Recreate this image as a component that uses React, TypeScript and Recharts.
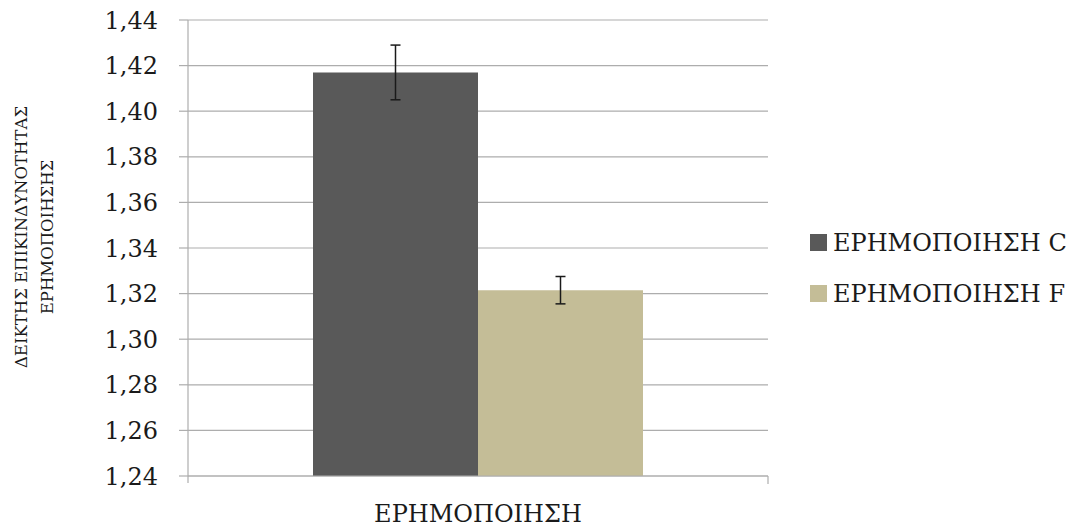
import React from "react";
import {
  BarChart,
  Bar,
  XAxis,
  YAxis,
  CartesianGrid,
  Legend,
  ErrorBar,
} from "recharts";

const categories: string[] = ["ΕΡΗΜΟΠΟΙΗΣΗ"];
const valuesC: number[] = [1.417];
const errorsC: number[] = [0.012];
const valuesF: number[] = [1.3215];
const errorsF: number[] = [0.006];
const seriesNames: string[] = ["ΕΡΗΜΟΠΟΙΗΣΗ C", "ΕΡΗΜΟΠΟΙΗΣΗ F"];
const seriesColors: string[] = ["#595959", "#c4bd97"];
const yTicks: number[] = [1.24, 1.26, 1.28, 1.3, 1.32, 1.34, 1.36, 1.38, 1.4, 1.42, 1.44];
const yLabelLines: string[] = ["ΔΕΙΚΤΗΣ ΕΠΙΚΙΝΔΥΝΟΤΗΤΑΣ", "ΕΡΗΜΟΠΟΙΗΣΗΣ"];

const data = categories.map((name, i) => ({
  name,
  c: valuesC[i],
  cErr: errorsC[i],
  f: valuesF[i],
  fErr: errorsF[i],
}));

const FONT = "'DejaVu Serif', serif";
const TEXT = "#1a1a1a";
const GRID = "#adadad";
const LEGEND_W = 275;

const formatTick = (v: number) => v.toFixed(2).replace(".", ",");

// category name under the axis plus the boundary tick marks excel draws
const CategoryTick = (props: any) => {
  const { x, y, payload } = props;
  const half = payload && payload.offset ? payload.offset : 0;
  return (
    <g>
      {half > 0 && (
        <>
          <line x1={x - half} y1={y} x2={x - half} y2={y + 7} stroke={GRID} strokeWidth={1.2} />
          <line x1={x + half} y1={y} x2={x + half} y2={y + 8} stroke={GRID} strokeWidth={1.2} />
        </>
      )}
      <text
        x={x}
        y={y + 46}
        textAnchor="middle"
        fontFamily={FONT}
        fontSize={24}
        fill={TEXT}
      >
        {payload.value}
      </text>
    </g>
  );
};

const YLabel = () => (
  <g>
    {yLabelLines.map((line, i) => (
      <text
        key={line}
        x={0}
        y={0}
        transform={`translate(${27 + i * 26}, 237) rotate(-90)`}
        textAnchor="middle"
        fontFamily={FONT}
        fontSize={16.5}
        fill={TEXT}
      >
        {line}
      </text>
    ))}
  </g>
);

const LegendContent = () => (
  <div style={{ fontFamily: FONT, color: TEXT }}>
    {seriesNames.map((name, i) => (
      <div
        key={name}
        style={{ display: "flex", alignItems: "center", height: 51 }}
      >
        <span
          style={{
            display: "inline-block",
            width: 17,
            height: 17,
            background: seriesColors[i],
            marginRight: 6,
          }}
        />
        <span style={{ fontSize: 24, whiteSpace: "nowrap" }}>{name}</span>
      </div>
    ))}
  </div>
);

export default function App() {
  return (
    <div style={{ position: "absolute", left: 0, top: 0, background: "#fff" }}>
      <BarChart
        width={1085}
        height={529}
        data={data}
        margin={{ top: 20, right: 317 - LEGEND_W, bottom: 0, left: 0 }}
        barCategoryGap={125}
        barGap={0}
      >
        <CartesianGrid vertical={false} stroke={GRID} strokeWidth={1.2} />
        <XAxis
          dataKey="name"
          height={53}
          axisLine={{ stroke: GRID, strokeWidth: 1.2 }}
          tickLine={false}
          tickSize={0}
          tickMargin={0}
          tick={<CategoryTick />}
        />
        <YAxis
          width={188}
          domain={[1.24, 1.44]}
          ticks={yTicks}
          allowDataOverflow
          interval={0}
          tickFormatter={formatTick}
          tickSize={9}
          tickMargin={21}
          axisLine={{ stroke: GRID, strokeWidth: 1.2 }}
          tickLine={{ stroke: GRID, strokeWidth: 1.2 }}
          tick={{ fontFamily: FONT, fontSize: 24, fill: TEXT }}
          label={<YLabel />}
        />
        <Legend
          content={<LegendContent />}
          wrapperStyle={{ left: 810, top: 217, width: LEGEND_W }}
          verticalAlign="top"
          align="right"
          layout="vertical"
        />
        <Bar dataKey="c" name={seriesNames[0]} fill={seriesColors[0]} isAnimationActive={false}>
          <ErrorBar dataKey="cErr" width={5} stroke={TEXT} strokeWidth={1.5} direction="y" />
        </Bar>
        <Bar dataKey="f" name={seriesNames[1]} fill={seriesColors[1]} isAnimationActive={false}>
          <ErrorBar dataKey="fErr" width={5} stroke={TEXT} strokeWidth={1.5} direction="y" />
        </Bar>
      </BarChart>
    </div>
  );
}
